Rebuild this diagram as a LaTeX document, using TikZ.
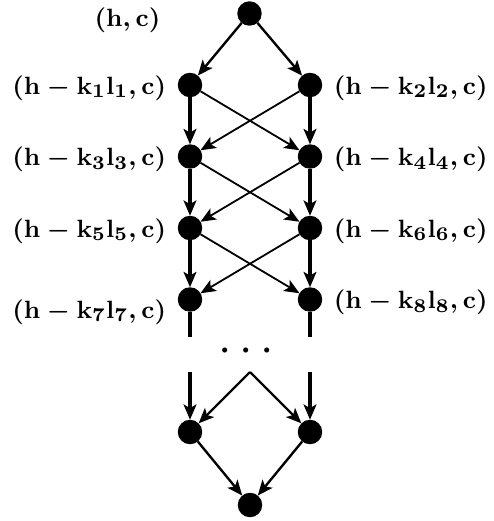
\documentclass[tikz,border=0pt]{standalone}
\usepackage{amsmath,amssymb}
\usetikzlibrary{arrows.meta,positioning}
\tikzset{
  vertex/.style={circle, fill=black, minimum size=8.8pt,
                 inner sep=0pt, outer sep=0pt},
  lab/.style={font=\fontsize{9.5pt}{11pt}\selectfont\boldmath, inner sep=0pt},
  tip/.style={-{Stealth[length=5.5pt,width=4.6pt,inset=1.3pt]}},
  rung/.style={tip, line width=1.3pt},
  edge/.style={tip, line width=0.85pt},
  cross/.style={tip, line width=0.65pt},
  stub/.style={line width=1.3pt},
}

\begin{document}
\begin{tikzpicture}[x=0.36pt,y=-0.36pt]
  \path[use as bounding box] (0,0) rectangle (493,521);

  % top and the ladder
  \node[vertex] (t) at (249.5,13.5) {};
  \node[vertex] (l1) at (190,85) {};
  \node[vertex] (r1) at (310,85) {};
  \node[vertex] (l2) at (190,156.5) {};
  \node[vertex] (r2) at (310,156.5) {};
  \node[vertex] (l3) at (190,228) {};
  \node[vertex] (r3) at (310,228) {};
  \node[vertex] (l4) at (190,299.5) {};
  \node[vertex] (r4) at (310,299.5) {};

  % bottom diamond
  \node[vertex] (l5) at (190,432) {};
  \node[vertex] (r5) at (310,432) {};
  \node[vertex] (b) at (250,505) {};
  \coordinate (el) at (190,337);
  \coordinate (er) at (310,337);
  \coordinate (sl) at (190,372);
  \coordinate (sr) at (310,372);
  \coordinate (ap) at (250,372);
  \node[font=\LARGE] (dots) at (250,352) {$\cdots$};

  % labels
  \node[lab] (Lt) at (127.5,20.5) {$\mathbf{(h,c)}$};
  \node[lab, left=4pt of l1, yshift=-1pt] (L1) {$\mathbf{(h-k_1l_1,c)}$};
  \node[lab, right=4pt of r1, yshift=-1pt] (L2) {$\mathbf{(h-k_2l_2,c)}$};
  \node[lab, left=4pt of l2, yshift=-1pt] (L3) {$\mathbf{(h-k_3l_3,c)}$};
  \node[lab, right=4pt of r2, yshift=-1pt] (L4) {$\mathbf{(h-k_4l_4,c)}$};
  \node[lab, left=4pt of l3, yshift=-1pt] (L5) {$\mathbf{(h-k_5l_5,c)}$};
  \node[lab, right=4pt of r3, yshift=-1pt] (L6) {$\mathbf{(h-k_6l_6,c)}$};
  \node[lab, left=4pt of l4, yshift=-4.5pt] (L7) {$\mathbf{(h-k_7l_7,c)}$};
  \node[lab, right=4pt of r4, yshift=-1pt] (L8) {$\mathbf{(h-k_8l_8,c)}$};

  \draw[edge] (t) -- (l1);
  \draw[edge] (t) -- (r1);

  \draw[rung] (l1) -- (l2);
  \draw[rung] (r1) -- (r2);
  \draw[rung] (l2) -- (l3);
  \draw[rung] (r2) -- (r3);
  \draw[rung] (l3) -- (l4);
  \draw[rung] (r3) -- (r4);

  \draw[cross] (l1) -- (r2);
  \draw[cross] (r1) -- (l2);
  \draw[cross] (l2) -- (r3);
  \draw[cross] (r2) -- (l3);
  \draw[cross] (l3) -- (r4);
  \draw[cross] (r3) -- (l4);

  \draw[stub] (l4) -- (el);
  \draw[stub] (r4) -- (er);

  \draw[rung] (sl) -- (l5);
  \draw[rung] (sr) -- (r5);
  \draw[edge] (ap) -- (l5);
  \draw[edge] (ap) -- (r5);
  \draw[edge] (l5) -- (b);
  \draw[edge] (r5) -- (b);
\end{tikzpicture}
\end{document}
